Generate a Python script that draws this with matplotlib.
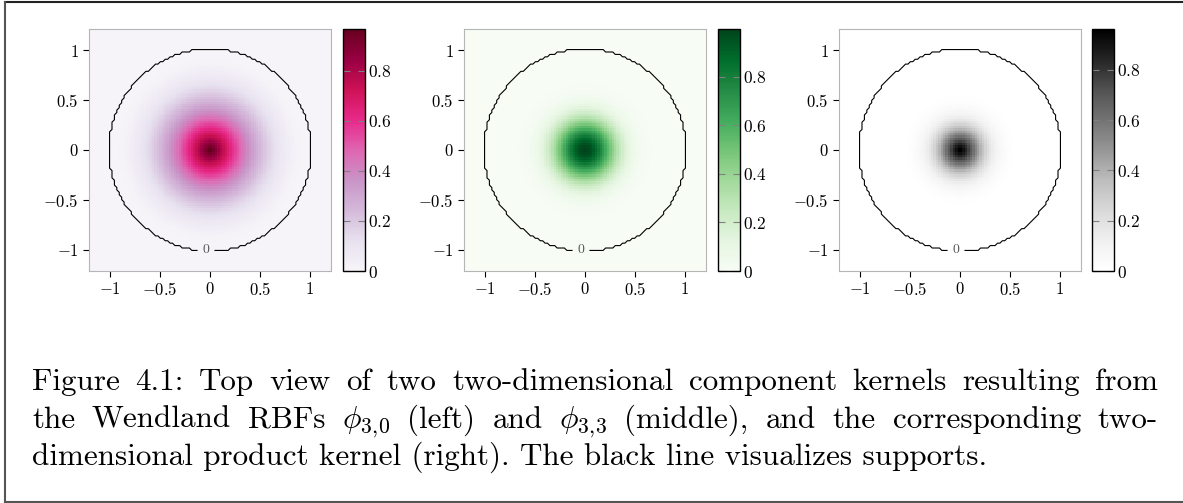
import numpy as np
import matplotlib
matplotlib.use("Agg")
import matplotlib.pyplot as plt
from matplotlib.lines import Line2D

plt.rcParams['font.family'] = 'serif'
plt.rcParams['font.serif'] = ['cmr10']
plt.rcParams['mathtext.fontset'] = 'cm'
plt.rcParams['axes.formatter.use_mathtext'] = True

# sampling grid of the kernels
grid_lim = 1.2
grid_n = 100

# Wendland RBFs phi_{3,k}(r) = (1-r)_+^power * poly(r), poly highest order first
phi30_power = 2
phi30_poly = [1]
phi33_power = 8
phi33_poly = [32, 25, 8, 1]

cmaps = ['PuRd', 'Greens', 'Greys']
axis_ticks = [-1, -0.5, 0, 0.5, 1]
axis_ticklabels = ['$-1$', '$-0.5$', '$0$', '$0.5$', '$1$']
cbar_ticks = [0, 0.2, 0.4, 0.6, 0.8]
cbar_ticklabels = ['$0$', '$0.2$', '$0.4$', '$0.6$', '$0.8$']
support_level = [0]
label_pos = [(-0.04, -1.0)]

caption_lines = [
    "Figure 4.1: Top view of two two-dimensional component kernels resulting from",
    r"the Wendland RBFs $\phi_{3,\!0}$ (left) and $\phi_{3,\!3}$ (middle), and the corresponding two-",
    "dimensional product kernel (right). The black line visualizes supports.",
]


def wendland(r, power, poly):
    return np.clip(1 - r, 0, None) ** power * np.polyval(poly, r)


W, H = 1183, 503
fig = plt.figure(figsize=(W / 100, H / 100), dpi=100)

g = np.linspace(-grid_lim, grid_lim, grid_n)
X, Y = np.meshgrid(g, g)
R = np.sqrt(X ** 2 + Y ** 2)
k30 = wendland(R, phi30_power, phi30_poly)
k33 = wendland(R, phi33_power, phi33_poly)
kernels = [k30, k33, k30 * k33]

# panel positions in pixels (left of axes, left of colorbar)
ax_left = [89, 464, 839]
cb_left = [343, 718, 1092]
top, bottom = 29, 271
ax_w, cb_w = 242, 22

for i in range(3):
    ax = fig.add_axes([ax_left[i] / W, 1 - bottom / H, ax_w / W, (bottom - top) / H])
    cax = fig.add_axes([cb_left[i] / W, 1 - bottom / H, cb_w / W, (bottom - top) / H])
    mesh = ax.pcolormesh(X, Y, kernels[i], cmap=cmaps[i], shading='nearest', vmin=0)
    cs = ax.contour(X, Y, kernels[i], levels=support_level, colors='black', linewidths=0.8)
    ax.clabel(cs, fmt='%d', fontsize=10, colors='#555555', inline=True, manual=label_pos)
    ax.set_aspect('equal')
    ax.set_xticks(axis_ticks, labels=axis_ticklabels)
    ax.set_yticks(axis_ticks, labels=axis_ticklabels)
    ax.tick_params(direction='out', length=4.5, width=0.8, color='black', labelsize=12, pad=3)
    for sp in ax.spines.values():
        sp.set_color('#b5b5b5')
        sp.set_linewidth(0.8)

    cb = fig.colorbar(mesh, cax=cax)
    cb.set_ticks(cbar_ticks, labels=cbar_ticklabels)
    cb.outline.set_edgecolor('black')
    cb.outline.set_linewidth(1.0)
    cax.tick_params(direction='in', left=True, right=True, color='gray', length=5,
                    width=0.8, labelsize=12.5, pad=2)

# caption, justified like the LaTeX text block
cap_size = 22.4
x0, x1 = 32, 1158
baselines = [390, 428, 465]
renderer = fig.canvas.get_renderer()
for j, line in enumerate(caption_lines):
    yf = 1 - baselines[j] / H
    if j == len(caption_lines) - 1:
        fig.text(x0 / W, yf, line, fontsize=cap_size, va='baseline', ha='left')
        continue
    words = line.split(' ')
    txts = [fig.text(0, yf, w, fontsize=cap_size, va='baseline', ha='left') for w in words]
    widths = [t.get_window_extent(renderer).width for t in txts]
    gap = (x1 - x0 - sum(widths)) / (len(words) - 1)
    x = x0
    for t, w in zip(txts, widths):
        t.set_x(x / W)
        x += w + gap

# frame of the screenshot
for xs, ys, c in [([5, W], [2, 2], '#222222'),
                  ([5, 5], [2, 502], '#555555'),
                  ([5, W], [502, 502], '#555555')]:
    fig.add_artist(Line2D([v / W for v in xs], [1 - v / H for v in ys],
                          transform=fig.transFigure, color=c, linewidth=1.5))

fig.savefig('out.png', dpi=100)
